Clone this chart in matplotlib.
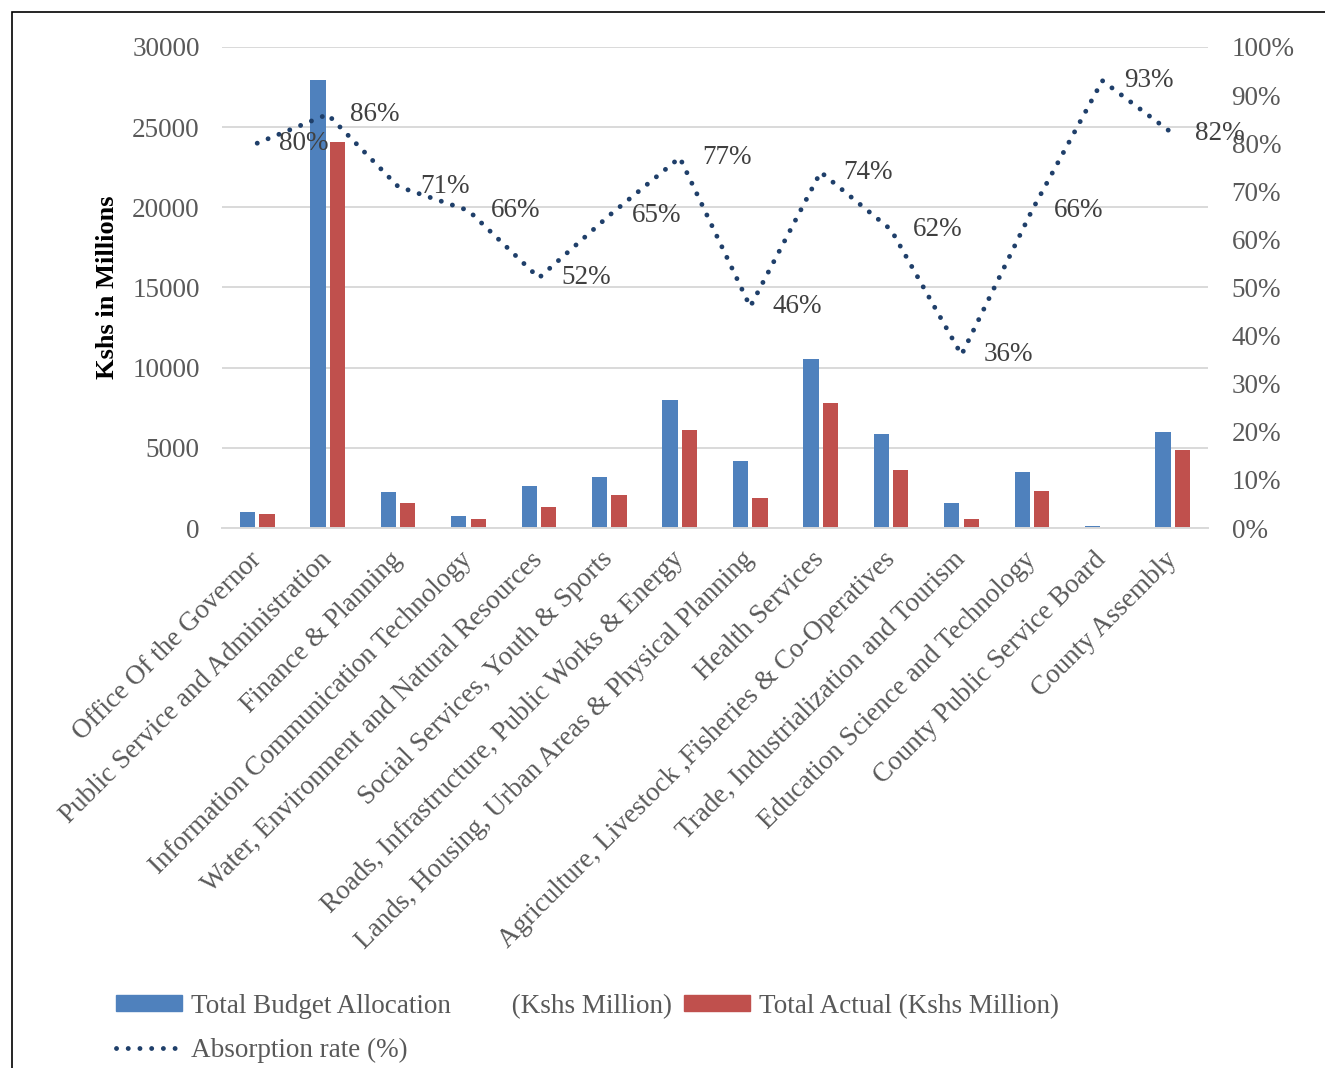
import matplotlib
matplotlib.use('Agg')
import matplotlib.pyplot as plt
from matplotlib.patches import Patch, Rectangle
from matplotlib.lines import Line2D
from matplotlib.ticker import FuncFormatter

plt.rcParams['font.family'] = ['Liberation Serif', 'DejaVu Serif']

# ---- data ----
departments = [
    'Office Of the Governor',
    'Public Service and Administration',
    'Finance & Planning',
    'Information Communication Technology',
    'Water, Environment and Natural Resources',
    'Social Services, Youth & Sports',
    'Roads, Infrastructure, Public Works & Energy',
    'Lands, Housing, Urban Areas & Physical Planning',
    'Health Services',
    'Agriculture, Livestock ,Fisheries & Co-Operatives',
    'Trade, Industrialization and Tourism',
    'Education Science and Technology',
    'County Public Service Board',
    'County Assembly',
]
budget = [1020, 27960, 2230, 770, 2640, 3210, 7970, 4160, 10540, 5840, 1580, 3520, 120, 6010]
actual = [860, 24100, 1580, 540, 1340, 2080, 6110, 1900, 7800, 3600, 540, 2310, 0, 4890]
absorption = [80, 86, 71, 66, 52, 65, 77, 46, 74, 62, 36, 66, 93, 82]

BLUE = '#4F81BD'
RED = '#C0504D'
NAVY = '#1F3F6A'
GRID = '#D9D9D9'
TXT = '#595959'

W, H = 1325, 1068
fig = plt.figure(figsize=(W / 100, H / 100), dpi=100)
ax = fig.add_axes([222 / W, 1 - 528 / H, 986 / W, 481 / H])

x = list(range(len(departments)))
bw = 0.217
off = 0.138
ax.bar([i - off for i in x], budget, width=bw, color=BLUE, zorder=2)
ax.bar([i + off for i in x], actual, width=bw, color=RED, zorder=2)

ax.set_xlim(-0.5, len(departments) - 0.5)
ax.set_ylim(0, 30000)
ax.set_yticks(range(0, 30001, 5000))
ax.set_axisbelow(True)
ax.grid(axis='y', color=GRID, lw=1.4)
for s in ['top', 'right', 'left']:
    ax.spines[s].set_visible(False)
ax.spines['bottom'].set_color(GRID)
ax.spines['bottom'].set_linewidth(1.4)
ax.tick_params(axis='y', length=0, pad=16, labelsize=19.5, labelcolor=TXT)
ax.tick_params(axis='x', length=0, pad=20, labelsize=19.5, labelcolor=TXT)
ax.set_xticks(x)
ax.set_xticklabels(departments, rotation=45, ha='right', va='center',
                   rotation_mode='anchor')

fig.text(108 / W, 1 - 287 / H, 'Kshs in Millions', rotation=90, ha='center',
         va='center', fontsize=19, fontweight='bold', color='black')

# absorption rate on the secondary axis
ax2 = ax.twinx()
ax2.set_ylim(0, 100)
ax2.set_yticks(range(0, 101, 10))
ax2.yaxis.set_major_formatter(FuncFormatter(lambda v, p: f'{v:.0f}%'))
ax2.tick_params(axis='y', length=0, pad=17, labelsize=19.5, labelcolor=TXT)
for s in ax2.spines.values():
    s.set_visible(False)
line_style = dict(color=NAVY, lw=3.5, linestyle=(0, (0.01, 2.4)),
                  dash_capstyle='round')
ax2.plot(x, absorption, **line_style, zorder=3)
for i, v in zip(x, absorption):
    ax2.annotate(f'{v}%', (i, v), xytext=(16, 0), textcoords='offset points',
                 ha='left', va='center', fontsize=19.5, color='#404040')

# legend
handles = [Patch(color=BLUE), Line2D([], [], **line_style), Patch(color=RED)]
labels = ['Total Budget Allocation         (Kshs Million)',
          'Absorption rate (%)',
          'Total Actual (Kshs Million)']
leg = fig.legend(handles, labels, loc='upper left',
                 bbox_to_anchor=(102 / W, 1 - 980 / H), ncol=2, frameon=False,
                 borderpad=0, handlelength=2.45, handleheight=0.55,
                 handletextpad=0.33, columnspacing=0.45, labelspacing=0.7,
                 fontsize=19.5)
for t in leg.get_texts():
    t.set_color(TXT)

# outer frame
fig.patches.append(Rectangle((12 / W, -0.1), 1.2, 1.1 - 12 / H,
                             transform=fig.transFigure, fill=False,
                             ec='black', lw=1.2))

fig.savefig('out.png', dpi=100)
